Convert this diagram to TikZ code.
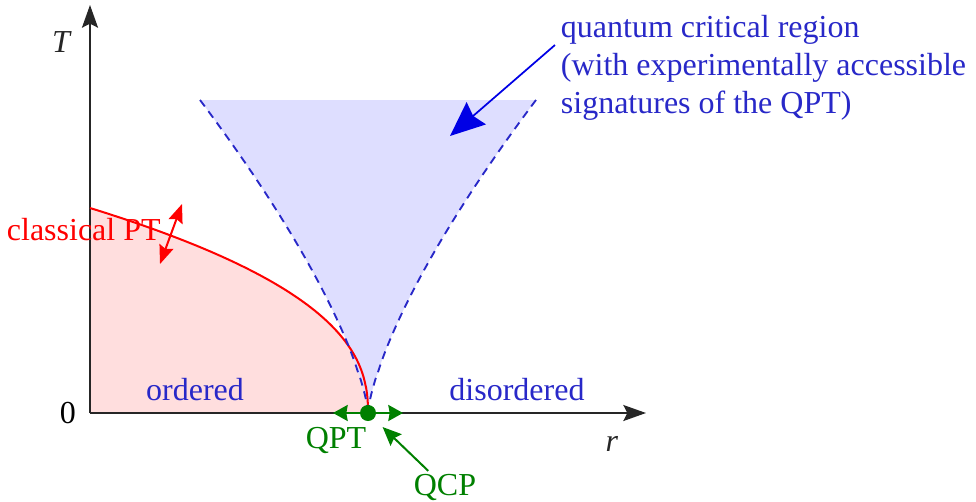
\documentclass[tikz,border=0pt]{standalone}
\usepackage{fontspec}
\setmainfont{Liberation Serif}
\usetikzlibrary{arrows.meta,calc}

\definecolor{qblue}{RGB}{40,40,200}
\definecolor{qgreen}{RGB}{0,128,0}

\begin{document}
\begin{tikzpicture}[
    x=0.75pt, y=-0.75pt,
    lbl/.style={font=\fontsize{24}{28.5}\selectfont, inner sep=2pt},
    axis/.style={-{Stealth[length=17pt, width=12pt, inset=3pt]}, line width=1.4pt, black!85},
    boundary/.style={red, line width=1.5pt},
    crossover/.style={qblue, line width=1.4pt, dash pattern=on 6pt off 4.5pt},
    orderfill/.style={fill=red!13},
    qcfill/.style={fill=blue!13},
    note/.style={-{Stealth[length=26pt, width=22pt, inset=3pt]}, blue!90!black, line width=1.3pt},
    flucarr/.style={{Stealth[length=14pt, width=11pt, inset=2pt]}-{Stealth[length=14pt, width=11pt, inset=2pt]}, red, line width=1.5pt},
    qptarr/.style={{Stealth[length=11pt, width=12pt, inset=1pt]}-{Stealth[length=11pt, width=12pt, inset=1pt]}, qgreen, line width=1.5pt},
    qcparr/.style={-{Stealth[length=14pt, width=12pt, inset=2pt]}, qgreen, line width=1.5pt}
]
\useasboundingbox (0,0) rectangle (976,501);

% shaded regions
\fill[orderfill] (368,413) -- (90,413) -- (90,208)
    -- plot[domain=1:0.01, samples=80] ({368-278*(\x)^2.38}, {413-205*\x}) -- cycle;
\fill[qcfill] plot[domain=1:0.01, samples=60] ({368-168*(\x)^1.4}, {413-313*\x}) -- (368,413)
    -- plot[domain=0.01:1, samples=60] ({368+168*(\x)^1.4}, {413-313*\x}) -- cycle;

% axes
\coordinate (o) at (90,413);
\coordinate (ttop) at (90,5);
\coordinate (rend) at (646,413);
\draw[axis] (o) -- (ttop);
\draw[axis] (o) -- (rend);

% phase boundary and crossover lines
\draw[boundary] plot[domain=1:0.01, samples=80] ({368-278*(\x)^2.38}, {413-205*\x}) -- (368,413);
\draw[crossover] plot[domain=1:0.01, samples=60] ({368-168*(\x)^1.4}, {413-313*\x}) -- (368,413);
\draw[crossover] plot[domain=1:0.01, samples=60] ({368+168*(\x)^1.4}, {413-313*\x}) -- (368,413);

% labels
\node[lbl, black!85] (tlab) at (62,42) {\textit{T}};
\node[lbl, black!85] (rlab) at (612,444) {\textit{r}};
\node[lbl] (zero) at (68,413) {0};
\node[lbl, red, anchor=west] (cpt) at (4,230) {classical PT};
\node[lbl, qblue] (ord) at (195,390) {ordered};
\node[lbl, qblue] (dis) at (517,390) {disordered};
\node[lbl, qblue, anchor=north west, align=left] (qcr) at (558,12)
    {quantum critical region\\(with experimentally accessible\\signatures of the QPT)};
\node[lbl, qgreen] (qptlab) at (336,440) {QPT};
\node[lbl, qgreen] (qcplab) at (445,487) {QCP};

% arrows
\coordinate (qctail) at (555,45);
\coordinate (qctip) at (450,136);
\draw[note] (qctail) -- (qctip);
\coordinate (fup) at (182,204);
\coordinate (fdn) at (160,264);
\draw[flucarr] (fdn) -- (fup);
\coordinate (ql) at (333,413);
\coordinate (qr) at (403,413);
\draw[qptarr] (ql) -- (qr);
\node[circle, fill=qgreen, inner sep=0pt, minimum size=12pt] (qcp) at (368,413) {};
\draw[qcparr, shorten >=9pt] (qcplab) -- (qcp);
\end{tikzpicture}
\end{document}
